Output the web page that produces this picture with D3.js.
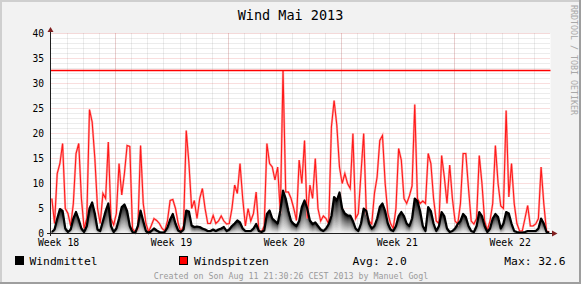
<!DOCTYPE html>
<html>
<head>
<meta charset="utf-8">
<script src="https://cdn.jsdelivr.net/npm/d3@7"></script>
<style>
body { margin: 0; background: #f2f2f2; }
text { font-family: "DejaVu Sans Mono", monospace; }
</style>
</head>
<body>
<div id="chart"></div>
<script>
const w = 581, h = 284

// data: 4-hour samples, 1 May 2013 00:00 .. 1 June 2013 00:00 (6 per day)
const windmittel = [
    0.3, 0.8, 3, 4.9, 4.5, 1,
    0.3, 0.8, 3, 4.3, 2.8, 1,
    0.3, 1.5, 5, 6.2, 4, 0.8,
    0.5, 2.5, 4.5, 6, 1.5, 0.3,
    1, 3, 5.3, 5.8, 4.5, 1.5,
    0.3, 0.1, 1.5, 4.6, 2.5, 0.5,
    0.1, 0.5, 1, 0.6, 0.3, 0.2,
    0.3, 1.2, 2.8, 3.9, 2, 0.6,
    0.3, 0.8, 4.6, 4.4, 1.6, 1.3,
    1.4, 1.3, 1, 0.8, 0.5, 0.5,
    0.8, 0.5, 0.8, 1, 1.3, 0.5,
    0.8, 1.5, 2, 2.6, 2.2, 1,
    0.5, 0.5, 0.5, 1, 1.9, 0.5,
    0.3, 0.6, 3.9, 4.6, 3, 2.5,
    2, 4.6, 8.6, 7, 4.5, 2.5,
    1.9, 1.5, 2.5, 5.3, 6.6, 5,
    2.6, 1.9, 2.2, 1.5, 0.8, 0.5,
    1, 1.9, 3.5, 7.3, 6.6, 8.2,
    5, 4, 3.6, 3.6, 2.5, 1,
    0.5, 2, 5, 4.5, 2, 1,
    1.5, 3, 5.3, 6, 4.5, 2,
    0.8, 0.5, 1.5, 3.5, 4.3, 3.5,
    2, 1.5, 3, 7, 6.5, 4.5,
    1.5, 0.5, 5.3, 4.5, 2, 0.5,
    1.5, 4.3, 3.5, 1, 0.3, 0.5,
    1, 1.9, 2.5, 3.9, 3.3, 1.5,
    0.5, 0.3, 1.5, 4.3, 3.5, 1.5,
    0.3, 1, 3, 3.9, 3.3, 1,
    2, 4.3, 4, 2, 0.5, 0.3,
    0.2, 0.2, 0.3, 0.5, 0.5, 0.5,
    0.5, 1, 3, 2, 0.3, 0.2
]
const windspitzen = [
    7, 2, 12, 14, 18, 5,
    4, 1.5, 6, 16, 18, 7,
    1, 3, 24.8, 22.3, 15, 5,
    2, 8, 7, 18.3, 3, 1.7,
    4, 14, 7.7, 12, 17.6, 17.4,
    1, 0.3, 1, 17.6, 6, 2,
    0.3, 1.6, 3, 2.6, 2, 1,
    0.5, 2.5, 6.6, 6.8, 5, 2,
    0.3, 1.5, 20.6, 14, 5, 6.6,
    3, 7, 9, 5, 2, 2,
    3.6, 2, 2.5, 3.5, 2.5, 1.9,
    2, 5, 9.7, 8, 14, 7,
    1.5, 5, 2.5, 4, 8.3, 0.6,
    0.3, 1.5, 18, 14, 13.3, 10.7,
    13.3, 4, 32.6, 8.3, 8.3, 7,
    5, 2.6, 14.7, 10, 18.6, 3,
    9.7, 7, 15, 5, 2.5, 3.5,
    3, 1.9, 21.3, 26.6, 21.7, 13.3,
    10, 12, 10, 9, 20, 3,
    4, 12, 20, 4, 2.5, 1.9,
    8, 11.3, 18.6, 19.6, 10, 4,
    2, 1, 5, 17, 14.7, 7,
    6, 7.5, 9.5, 25.8, 7, 6,
    6.5, 6, 16, 14, 7, 2.5,
    2, 15.6, 11.3, 6, 13.7, 7,
    2.5, 1.9, 6, 16, 16, 9,
    2.5, 1.9, 3, 15.6, 10, 2.5,
    0.6, 2.5, 6, 17.6, 10, 5.5,
    5, 24.6, 7.3, 14, 6, 2,
    0.5, 0.5, 3, 5.6, 1.5, 1.5,
    1.9, 3, 13.3, 6, 0.5, 0.3
]
const weekLabels = ["Week 18", "Week 19", "Week 20", "Week 21", "Week 22"]
const yTicks = [0, 5, 10, 15, 20, 25, 30, 35, 40]
const maxWind = 32.6
const legendAvg = "Avg: 2.0"
const legendMax = "Max: 32.6"

const start = new Date(2013, 4, 1), end = new Date(2013, 5, 1)

//scales
const x = d3.scaleTime().domain([start, end]).range([50.5, 550.5])
const y = d3.scaleLinear().domain([0, 40]).range([233.5, 33.5])

// each sample sits in the middle of its 4 hour slot
const toPoints = arr => arr.map((v, i) => ({ t: d3.timeMinute.offset(start, 240 * i + 120), v: v }))
const mittel = toPoints(windmittel)
const spitzen = toPoints(windspitzen)

const svg = d3.select("#chart").append("svg")
    .attr("width", w)
    .attr("height", h)

// background + shade
svg.append("rect").attr("width", w).attr("height", h).attr("fill", "#f2f2f2")
svg.append("path").attr("d", `M0,0H${w}V2H2V${h}H0Z`).attr("fill", "#cfcfcf")
svg.append("path").attr("d", `M${w},${h}H0V${h - 2}H${w - 2}V0H${w}Z`).attr("fill", "#9e9e9e")
svg.append("rect").attr("x", 50.5).attr("y", 33.5).attr("width", 500).attr("height", 200).attr("fill", "#fff")

// grid
const minorCol = "rgba(143,143,143,0.35)", majorCol = "rgba(222,79,79,0.38)"
const grid = svg.append("g")
grid.selectAll("line.ymin")
    .data(d3.range(1, 41).filter(d => d % 5 != 0))
    .enter().append("line")
    .attr("x1", 50.5).attr("x2", 550.5)
    .attr("y1", d => y(d)).attr("y2", d => y(d))
    .attr("stroke", minorCol).attr("stroke-dasharray", "1,1")
grid.selectAll("line.xmin")
    .data(d3.timeDay.range(d3.timeDay.offset(start, 1), end))
    .enter().append("line")
    .attr("x1", d => Math.round(x(d)) + 0.5).attr("x2", d => Math.round(x(d)) + 0.5)
    .attr("y1", 33.5).attr("y2", 233.5)
    .attr("stroke", minorCol).attr("stroke-dasharray", "1,1")
grid.selectAll("line.ymaj")
    .data(yTicks.slice(1))
    .enter().append("line")
    .attr("x1", 50.5).attr("x2", 550.5)
    .attr("y1", d => y(d)).attr("y2", d => y(d))
    .attr("stroke", majorCol).attr("stroke-dasharray", "1,1")
grid.selectAll("line.xmaj")
    .data(d3.timeWeek.range(start, end))
    .enter().append("line")
    .attr("x1", d => Math.round(x(d)) + 0.5).attr("x2", d => Math.round(x(d)) + 0.5)
    .attr("y1", 33.5).attr("y2", 233.5)
    .attr("stroke", majorCol).attr("stroke-dasharray", "1,1")

// Windmittel: shaded area (dark at the top, fading down) + thick line
const layers = d3.range(20).map(i => 1 - i / 20)
const shade = k => d3.interpolateRgb("#000", "#fbfbfb")(Math.pow(1 - k, 0.75))
layers.forEach(k => {
    svg.append("path")
        .datum(mittel)
        .attr("fill", shade(k))
        .attr("d", d3.area()
            .x(d => x(d.t)).y0(y(0)).y1(d => y(d.v * k)))
})

// Windspitzen
const redLine = d3.line().x(d => x(d.t)).y(d => y(d.v))
svg.append("path").datum(spitzen)
    .attr("fill", "none").attr("stroke", "#ffb0b0").attr("stroke-width", 2.2)
    .attr("d", redLine)
svg.append("path").datum(spitzen)
    .attr("fill", "none").attr("stroke", "#ff1a1a").attr("stroke-width", 1.1)
    .attr("d", redLine)

svg.append("path")
    .datum(mittel)
    .attr("fill", "none")
    .attr("stroke", "#000")
    .attr("stroke-width", 2.2)
    .attr("stroke-linejoin", "round")
    .attr("d", d3.line().x(d => x(d.t)).y(d => y(d.v)))

// max rule
svg.append("line")
    .attr("x1", 50.5).attr("x2", 550.5)
    .attr("y1", y(maxWind)).attr("y2", y(maxWind))
    .attr("stroke", "#ff0000").attr("stroke-width", 1.4)

// axes
svg.append("line").attr("x1", 50.5).attr("x2", 50.5).attr("y1", 236).attr("y2", 30)
    .attr("stroke", "#1f1f1f")
svg.append("line").attr("x1", 47).attr("x2", 554).attr("y1", 233.5).attr("y2", 233.5)
    .attr("stroke", "#1f1f1f")
svg.append("path").attr("d", "M47.5,32L53.5,32L50.5,27Z").attr("fill", "#801f1f")
svg.append("path").attr("d", "M552,230.5L552,236.5L557.5,233.5Z").attr("fill", "#801f1f")

// labels
svg.selectAll("text.ylab")
    .data(yTicks)
    .enter().append("text")
    .attr("x", 44).attr("y", d => y(d) + 3)
    .attr("text-anchor", "end")
    .attr("font-size", 9.6)
    .text(d => d)

svg.selectAll("text.week")
    .data(d3.timeWeek.range(d3.timeWeek.floor(start), end))
    .enter().append("text")
    .attr("x", d => x(d3.timeHour.offset(d, 84)))
    .attr("y", 246)
    .attr("text-anchor", "middle")
    .attr("font-size", 9.8)
    .text((d, i) => weekLabels[i])

svg.append("text").attr("x", 290.5).attr("y", 19.5)
    .attr("text-anchor", "middle").attr("font-size", 13.5)
    .text("Wind Mai 2013")

svg.append("text")
    .attr("transform", "translate(571,5) rotate(90)")
    .attr("font-size", 8.3).attr("fill", "#a8a8a8")
    .text("RRDTOOL / TOBI OETIKER")

// legend
svg.append("rect").attr("x", 15.5).attr("y", 256.5).attr("width", 8).attr("height", 8)
    .attr("fill", "#000").attr("stroke", "#000")
svg.append("text").attr("x", 29.5).attr("y", 265).attr("font-size", 11.3).text("Windmittel")
svg.append("rect").attr("x", 179.5).attr("y", 256.5).attr("width", 8).attr("height", 8)
    .attr("fill", "#ff0000").attr("stroke", "#000")
svg.append("text").attr("x", 194).attr("y", 265).attr("font-size", 11.3).text("Windspitzen")
svg.append("text").attr("x", 352.5).attr("y", 265).attr("font-size", 11.3).text(legendAvg)
svg.append("text").attr("x", 565.5).attr("y", 265).attr("font-size", 11.3)
    .attr("text-anchor", "end").text(legendMax)

svg.append("text").attr("x", 291).attr("y", 279)
    .attr("text-anchor", "middle").attr("font-size", 8.3).attr("fill", "#9a9a9a")
    .text("Created on Son Aug 11 21:30:26 CEST 2013 by Manuel Gogl")
</script>
</body>
</html>
